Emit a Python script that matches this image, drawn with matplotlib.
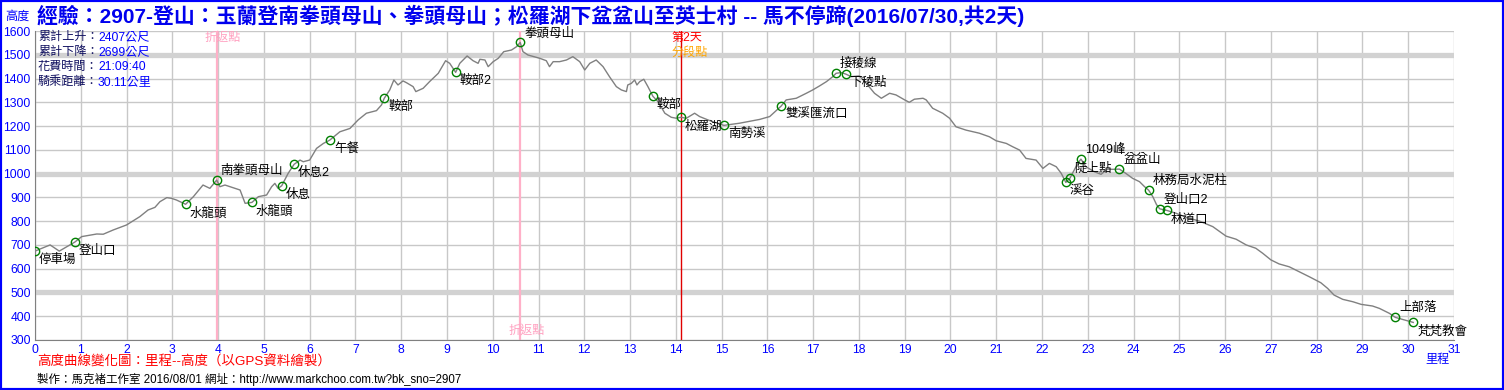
import matplotlib
matplotlib.use('Agg')
import matplotlib.pyplot as plt
from matplotlib.patches import Rectangle

plt.rcParams['font.family'] = ['Liberation Sans', 'Noto Sans CJK TC', 'DejaVu Sans']

# elevation profile (km, m)
dist_km = [0.0, 0.33, 0.53, 0.87, 1.02, 1.35, 1.49, 1.71, 2.0, 2.29, 2.47, 2.62, 2.73,
           2.88, 2.98, 3.09, 3.29, 3.46, 3.67, 3.82, 3.97, 4.04, 4.15, 4.26, 4.48, 4.59,
           4.74, 4.88, 5.06, 5.17, 5.24, 5.31, 5.39, 5.53, 5.66, 5.79, 5.86, 6.0, 6.15,
           6.3, 6.44, 6.66, 6.88, 7.06, 7.24, 7.46, 7.57, 7.63, 7.75, 7.84, 7.93, 8.04,
           8.12, 8.26, 8.32, 8.48, 8.62, 8.81, 8.97, 9.06, 9.19, 9.28, 9.44, 9.57, 9.68,
           9.72, 9.83, 9.90, 10.01, 10.12, 10.24, 10.41, 10.52, 10.60, 10.66, 10.77,
           11.03, 11.17, 11.24, 11.32, 11.46, 11.61, 11.75, 11.90, 12.01, 12.12, 12.26,
           12.41, 12.55, 12.70, 12.81, 12.92, 12.95, 13.03, 13.10, 13.15, 13.21, 13.30,
           13.39, 13.50, 13.61, 13.76, 13.90, 14.01, 14.11, 14.23, 14.41, 14.52, 14.70,
           14.81, 15.05, 15.39, 15.83, 16.05, 16.30, 16.41, 16.63, 16.85, 16.99, 17.14,
           17.29, 17.43, 17.50, 17.61, 17.71, 17.83, 18.01, 18.16, 18.34, 18.49, 18.67,
           18.81, 19.00, 19.10, 19.21, 19.40, 19.47, 19.61, 19.83, 19.98, 20.12, 20.34,
           20.63, 20.85, 21.00, 21.22, 21.36, 21.51, 21.65, 21.87, 22.02, 22.16, 22.31,
           22.42, 22.52, 22.61, 22.78, 22.85, 22.96, 23.14, 23.29, 23.43, 23.54, 23.69,
           23.83, 23.98, 24.13, 24.24, 24.33, 24.42, 24.50, 24.57, 24.73, 24.93, 25.15,
           25.44, 25.73, 26.02, 26.24, 26.46, 26.67, 26.82, 27.00, 27.18, 27.40, 27.62,
           27.84, 28.09, 28.24, 28.38, 28.57, 28.79, 28.97, 29.22, 29.37, 29.59, 29.72,
           29.87, 30.11]
elev_m = [674, 700, 674, 712, 735, 746, 745, 763, 784, 819, 847, 858, 882,
          899, 896, 889, 871, 903, 952, 938, 973, 945, 952, 945, 931, 875,
          879, 903, 910, 945, 959, 938, 949, 1001, 1039, 1057, 1050, 1057, 1106,
          1127, 1141, 1176, 1190, 1226, 1254, 1265, 1289, 1317, 1352, 1394, 1373, 1390,
          1382, 1366, 1345, 1359, 1387, 1422, 1475, 1464, 1426, 1464, 1495, 1475, 1464,
          1481, 1478, 1450, 1471, 1485, 1513, 1520, 1534, 1552, 1513, 1499,
          1485, 1475, 1450, 1471, 1471, 1478, 1492, 1471, 1436, 1464, 1478,
          1450, 1408, 1366, 1352, 1345, 1373, 1380, 1394, 1373, 1387, 1397,
          1366, 1325, 1303, 1254, 1237, 1233, 1237, 1233, 1254, 1240, 1226,
          1218, 1203, 1212, 1228, 1240, 1284, 1310, 1317, 1338, 1352, 1369,
          1387, 1408, 1422, 1425, 1419, 1408, 1411, 1380, 1338, 1317, 1338,
          1331, 1310, 1300, 1313, 1317, 1310, 1275, 1254, 1233, 1197, 1183,
          1170, 1155, 1138, 1127, 1113, 1099, 1064, 1057, 1022, 1043, 1029,
          1001, 963, 981, 1043, 1061, 1029, 1008, 997, 1019, 1018, 1019,
          1001, 980, 966, 945, 930, 903, 870, 852, 845, 833, 816,
          800, 777, 737, 724, 700, 686, 665, 637, 620, 608, 587,
          566, 541, 517, 489, 471, 461, 450, 443, 433, 412, 395,
          387, 374]

# waypoints
wp_names = ['停車場', '登山口', '水龍頭', '南拳頭母山', '水龍頭', '休息', '休息2', '午餐',
            '鞍部', '鞍部2', '拳頭母山', '鞍部', '松羅湖', '南勢溪', '雙溪匯流口', '接稜線',
            '下稜點', '溪谷', '陡上點', '1049峰', '盆盆山', '林務局水泥柱', '登山口2',
            '林道口', '上部落', '梵梵教會']
wp_km = [0.0, 0.87, 3.29, 3.97, 4.74, 5.39, 5.66, 6.44, 7.63, 9.19, 10.60, 13.50, 14.11,
         15.05, 16.30, 17.50, 17.71, 22.52, 22.61, 22.85, 23.69, 24.33, 24.57, 24.73,
         29.72, 30.11]
wp_elev = [674, 712, 871, 973, 879, 949, 1039, 1141, 1317, 1426, 1552, 1325, 1237,
           1203, 1284, 1422, 1419, 963, 981, 1061, 1019, 930, 852, 845, 395, 374]
above = {'南拳頭母山', '拳頭母山', '接稜線', '陡上點', '1049峰', '盆盆山', '林務局水泥柱',
         '登山口2', '上部落'}

turn_km = [3.97, 10.60]
day2_km = 14.12

stats_labels = ['累計上升：', '累計下降：', '花費時間：', '騎乘距離：']
stats_values = ['2407公尺', '2699公尺', '21:09:40', '30.11公里']

title = '經驗：2907-登山：玉蘭登南拳頭母山、拳頭母山；松羅湖下盆盆山至英士村 -- 馬不停蹄(2016/07/30,共2天)'

W, H = 1504, 390


def fpos(x, y):
    return x / W, 1 - y / H


fig = plt.figure(figsize=(W / 100, H / 100), dpi=100)
ax = fig.add_axes([35 / W, 1 - 340 / H, (1454 - 35) / W, (340 - 31) / H])
ax.set_xlim(0, 31)
ax.set_ylim(300, 1600)
ax.set_xticks(range(0, 32))
ax.set_yticks(range(300, 1601, 100))
ax.grid(True, color='#c8c8c8', lw=1)
ax.set_axisbelow(True)
for y in (500, 1000, 1500):
    ax.axhline(y, color='#d2d2d2', lw=3.8, zorder=1)
ax.tick_params(length=0, labelcolor='#0000ff', labelsize=8.7, pad=3)
for s in ('top', 'right'):
    ax.spines[s].set_visible(False)
for s in ('left', 'bottom'):
    ax.spines[s].set_color('#808080')

for k in turn_km:
    ax.axvline(k, color='#ffb0c8', lw=1.6, zorder=2)
ax.axvline(day2_km, color='#e00000', lw=1, zorder=2)

ax.plot(dist_km, elev_m, color='#808080', lw=1, zorder=3)
ax.plot(wp_km, wp_elev, 'o', mfc='none', mec='#008000', ms=6, mew=1, zorder=4)

for n, k, e in zip(wp_names, wp_km, wp_elev):
    if n in above:
        ax.annotate(n, (k, e), xytext=(4, 3), textcoords='offset pixels',
                    va='bottom', ha='left', fontsize=9, color='black', zorder=5)
    else:
        ax.annotate(n, (k, e), xytext=(4, -3), textcoords='offset pixels',
                    va='top', ha='left', fontsize=9, color='black', zorder=5)

# turn-around / day-2 marker labels
ax.annotate('折返點', (turn_km[0], 1600), xytext=(-12, -1), textcoords='offset pixels',
            va='top', ha='left', fontsize=8.7, color='#ffa0c0')
ax.annotate('折返點', (turn_km[1], 300), xytext=(-12, 3), textcoords='offset pixels',
            va='bottom', ha='left', fontsize=8.7, color='#ffa0c0')
ax.annotate('第2天', (day2_km, 1600), xytext=(-10, -1), textcoords='offset pixels',
            va='top', ha='left', fontsize=8.7, color='#ff0000')
ax.annotate('分段點', (day2_km, 1600), xytext=(-10, -16), textcoords='offset pixels',
            va='top', ha='left', fontsize=8.7, color='#ffa500')

# texts around the chart
fig.text(*fpos(37, 16), title, color='#0000ee', fontsize=15, fontweight='bold',
         va='center', ha='left')
fig.text(*fpos(5, 17), '高度', color='#0000ff', fontsize=8.7, va='center', ha='left')
fig.text(*fpos(1425, 360), '里程', color='#0000ff', fontsize=8.7, va='center', ha='left')
for i, (lb, v) in enumerate(zip(stats_labels, stats_values)):
    y = 37 + i * 15
    fig.text(*fpos(38, y), lb, color='#101060', fontsize=8.7, va='center', ha='left')
    fig.text(*fpos(98, y), v, color='#0000ff', fontsize=8.7, va='center', ha='left')
fig.text(*fpos(37, 362), '高度曲線變化圖：里程--高度（以GPS資料繪製）', color='#ff0000',
         fontsize=9.7, va='center', ha='left')
fig.text(*fpos(37, 379), '製作：馬克褚工作室 2016/08/01 網址：http://www.markchoo.com.tw?bk_sno=2907',
         color='black', fontsize=8.3, va='center', ha='left')

fig.patches.append(Rectangle((0, 0), 1, 1, transform=fig.transFigure, fill=False,
                             edgecolor='#0000ff', lw=3))

fig.savefig('out.png', dpi=100)
